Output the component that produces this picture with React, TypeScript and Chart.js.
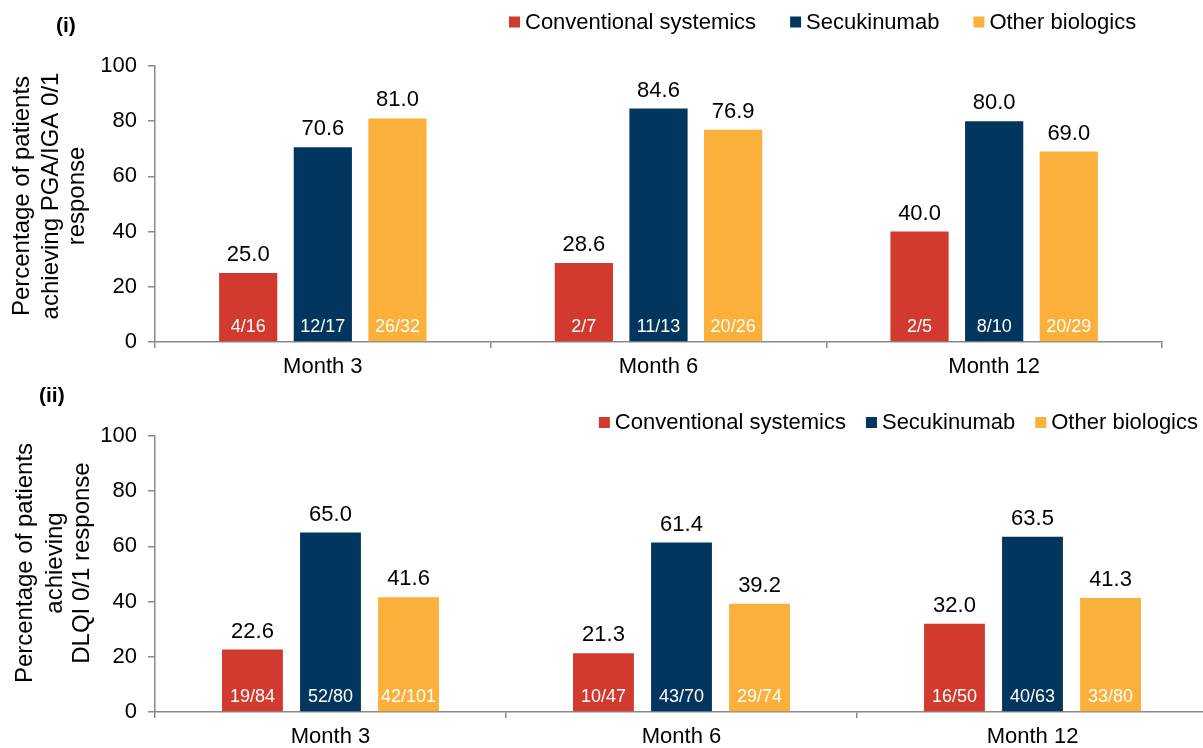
import React, { useEffect, useRef } from 'react';
import { Chart, registerables } from 'chart.js';

Chart.register(...registerables);

const FONT = "'Liberation Sans', Arial, Helvetica, sans-serif";
Chart.defaults.font.family = FONT;

// ---- data ----
const categories = ['Month 3', 'Month 6', 'Month 12'];
const seriesNames = ['Conventional systemics', 'Secukinumab', 'Other biologics'];
const seriesColors = ['#D2392F', '#03365E', '#FAB03B'];
const yTickValues = [0, 20, 40, 60, 80, 100];

// Panel (i): PGA/IGA 0/1 response
const pgaConventional = [25.0, 28.6, 40.0];
const pgaSecukinumab = [70.6, 84.6, 80.0];
const pgaOther = [81.0, 76.9, 69.0];
const pgaConventionalN = ['4/16', '2/7', '2/5'];
const pgaSecukinumabN = ['12/17', '11/13', '8/10'];
const pgaOtherN = ['26/32', '20/26', '20/29'];

// Panel (ii): DLQI 0/1 response
const dlqiConventional = [22.6, 21.3, 32.0];
const dlqiSecukinumab = [65.0, 61.4, 63.5];
const dlqiOther = [41.6, 39.2, 41.3];
const dlqiConventionalN = ['19/84', '10/47', '16/50'];
const dlqiSecukinumabN = ['52/80', '43/70', '40/63'];
const dlqiOtherN = ['42/101', '29/74', '33/80'];

const pgaTitle = ['Percentage of patients', 'achieving PGA/IGA 0/1', 'response'];
const dlqiTitle = ['Percentage of patients', 'achieving', 'DLQI 0/1 response'];

const AXIS_COLOR = '#8a8a8a';
const X_AXIS_HEIGHT = 40;

const decoPlugin = {
  id: 'deco',
  afterDatasetsDraw(chart: any, _args: any, opts: any) {
    const ctx = chart.ctx;
    ctx.save();
    chart.data.datasets.forEach((ds: any, di: number) => {
      const meta = chart.getDatasetMeta(di);
      meta.data.forEach((bar: any, i: number) => {
        const v = ds.data[i];
        ctx.fillStyle = '#000';
        ctx.font = `22px ${FONT}`;
        ctx.textAlign = 'center';
        ctx.textBaseline = 'alphabetic';
        ctx.fillText(v.toFixed(1), bar.x, bar.y - 12);
        ctx.fillStyle = '#fff';
        ctx.font = `18px ${FONT}`;
        ctx.fillText(ds.fractions[i], bar.x, bar.base - 9);
      });
    });
    ctx.restore();
  },
  afterDraw(chart: any, _args: any, opts: any) {
    const ctx = chart.ctx;
    ctx.save();
    // panel label
    ctx.fillStyle = '#000';
    ctx.font = `bold 21px ${FONT}`;
    ctx.textAlign = 'left';
    ctx.textBaseline = 'alphabetic';
    ctx.fillText(opts.label, opts.labelX, opts.labelY);

    // y title
    ctx.font = `24px ${FONT}`;
    ctx.textAlign = 'center';
    opts.titleLines.forEach((line: string, i: number) => {
      ctx.save();
      ctx.translate(opts.titleBaselines[i], opts.titleCenterY);
      ctx.rotate(-Math.PI / 2);
      ctx.fillText(line, 0, 0);
      ctx.restore();
    });

    // legend
    ctx.font = `22px ${FONT}`;
    ctx.textBaseline = 'middle';
    ctx.textAlign = 'left';
    const box = 11;
    const gapBoxText = 5;
    const items = chart.data.datasets.map((ds: any) => ({
      text: ds.label,
      color: ds.backgroundColor,
      w: ctx.measureText(ds.label).width,
    }));
    const total =
      items.reduce((s: number, it: any) => s + box + gapBoxText + it.w, 0) +
      opts.legendGap * (items.length - 1);
    let x = opts.legendAlign === 'right' ? opts.legendX - total : opts.legendX;
    const y = opts.legendY;
    items.forEach((it: any) => {
      ctx.fillStyle = it.color;
      ctx.fillRect(x, y - box / 2, box, box);
      ctx.fillStyle = '#000';
      ctx.fillText(it.text, x + box + gapBoxText, y + 0.5);
      x += box + gapBoxText + it.w + opts.legendGap;
    });
    ctx.restore();
  },
};

type PanelProps = {
  top: number;
  width: number;
  height: number;
  padRight: number;
  values: number[][];
  fractions: string[][];
  deco: any;
};

function BarPanel({ top, width, height, padRight, values, fractions, deco }: PanelProps) {
  const ref = useRef<HTMLCanvasElement | null>(null);
  useEffect(() => {
    if (!ref.current) return;
    const chart = new Chart(ref.current, {
      type: 'bar',
      data: {
        labels: categories,
        datasets: values.map((vals, i) => ({
          label: seriesNames[i],
          data: vals,
          backgroundColor: seriesColors[i],
          borderWidth: 0,
          categoryPercentage: 0.667,
          barPercentage: 0.78,
          fractions: fractions[i],
        })) as any,
      },
      options: {
        responsive: false,
        maintainAspectRatio: false,
        animation: false,
        layout: {
          padding: { top: 66, right: padRight, bottom: height - 342 - X_AXIS_HEIGHT, left: 0 },
        },
        plugins: {
          legend: { display: false },
          tooltip: { enabled: false },
          deco,
        } as any,
        scales: {
          x: {
            grid: {
              display: true,
              drawOnChartArea: false,
              drawTicks: true,
              tickLength: 6,
              color: AXIS_COLOR,
              lineWidth: 1.5,
              offset: true,
            },
            border: { display: true, color: AXIS_COLOR, width: 1.5 },
            ticks: { color: '#000', font: { size: 22 }, padding: 6 },
            afterFit: (s: any) => {
              s.height = X_AXIS_HEIGHT;
            },
          },
          y: {
            min: 0,
            max: 100,
            afterBuildTicks: (s: any) => {
              s.ticks = yTickValues.map((v) => ({ value: v }));
            },
            ticks: { color: '#000', font: { size: 22 }, padding: 11 },
            grid: {
              display: true,
              drawOnChartArea: false,
              drawTicks: true,
              tickLength: 7,
              color: AXIS_COLOR,
              lineWidth: 1.5,
            },
            border: { display: true, color: AXIS_COLOR, width: 1.5 },
            afterFit: (s: any) => {
              s.width = 155;
            },
          },
        },
      },
      plugins: [decoPlugin as any],
    });
    return () => chart.destroy();
  }, []);
  return (
    <canvas
      ref={ref}
      width={width}
      height={height}
      style={{ position: 'absolute', left: 0, top, width, height }}
    />
  );
}

export default function App() {
  return (
    <div
      style={{
        position: 'absolute',
        left: 0,
        top: 0,
        width: 1203,
        height: 748,
        overflow: 'hidden',
        background: '#fff',
      }}
    >
      <BarPanel
        top={0}
        width={1203}
        height={385}
        padRight={41}
        values={[pgaConventional, pgaSecukinumab, pgaOther]}
        fractions={[pgaConventionalN, pgaSecukinumabN, pgaOtherN]}
        deco={{
          label: '(i)',
          labelX: 56,
          labelY: 32,
          titleLines: pgaTitle,
          titleBaselines: [29, 58, 84],
          titleCenterY: 196,
          legendAlign: 'left',
          legendX: 509,
          legendGap: 34,
          legendY: 22,
        }}
      />
      <BarPanel
        top={370}
        width={1210}
        height={385}
        padRight={2}
        values={[dlqiConventional, dlqiSecukinumab, dlqiOther]}
        fractions={[dlqiConventionalN, dlqiSecukinumabN, dlqiOtherN]}
        deco={{
          label: '(ii)',
          labelX: 39,
          labelY: 32,
          titleLines: dlqiTitle,
          titleBaselines: [32, 62, 89],
          titleCenterY: 193,
          legendAlign: 'right',
          legendX: 1198,
          legendGap: 20,
          legendY: 52.5,
        }}
      />
    </div>
  );
}
